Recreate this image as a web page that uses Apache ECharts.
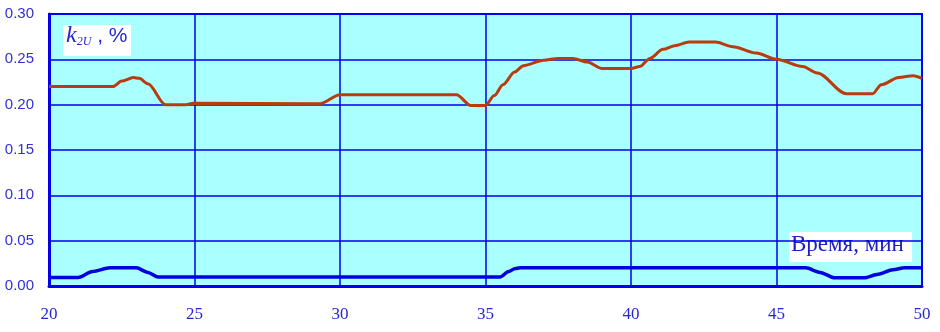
<!DOCTYPE html>
<html><head><meta charset="utf-8">
<script src="https://cdn.jsdelivr.net/npm/echarts@6/dist/echarts.min.js"></script>
<style>html,body{margin:0;padding:0;background:#fff}#c{width:940px;height:332px}</style>
</head><body><div id="c"></div>
<script>
const xTicks = [20, 25, 30, 35, 40, 45, 50];
const yTicks = ['0.00','0.05','0.10','0.15','0.20','0.25','0.30'];
const redX = [20,22.2,22.5,22.9,23.1,23.4,24.0,24.7,24.95,29.3,30.0,34.0,34.5,35.0,35.3,35.6,36.0,36.3,37.0,37.5,38.0,38.5,39.0,40.0,40.3,40.65,41.1,41.5,42.0,42.9,43.5,44.3,45.0,45.9,46.4,47.4,48.3,48.6,49.2,49.7,50];
const redY = [0.220,0.220,0.226,0.230,0.229,0.223,0.200,0.200,0.2015,0.201,0.211,0.211,0.199,0.199,0.210,0.222,0.236,0.243,0.249,0.251,0.251,0.247,0.240,0.240,0.242,0.251,0.261,0.265,0.269,0.269,0.264,0.257,0.250,0.242,0.235,0.212,0.212,0.222,0.230,0.232,0.229];
const blueX = [20,21.0,21.5,22.1,23.0,23.4,23.75,35.5,35.8,36.0,36.2,46.0,46.5,47.0,48.0,48.5,49.0,49.4,50];
const blueY = [0.0095,0.0095,0.016,0.020,0.020,0.015,0.010,0.010,0.016,0.019,0.020,0.020,0.015,0.009,0.009,0.013,0.018,0.020,0.020];

const chart = echarts.init(document.getElementById('c'));
const blue = '#0000ee';
chart.setOption({
  animation:false,
  grid:{left:49,right:18,top:14,bottom:46,show:true,backgroundColor:'#aaffff',borderColor:blue,borderWidth:2},
  xAxis:{type:'value',min:20,max:50,interval:5,
    axisLine:{show:true,lineStyle:{color:blue,width:3}},axisTick:{show:false},
    axisLabel:{margin:20,color:'#2828d0',fontFamily:'Liberation Serif',fontSize:17,
      formatter:v=>xTicks.includes(v)?String(v):''},
    splitLine:{show:true,lineStyle:{color:blue,width:1.5}}},
  yAxis:{type:'value',min:0,max:0.3,interval:0.05,
    axisLine:{show:true,lineStyle:{color:blue,width:3}},axisTick:{show:false},
    axisLabel:{margin:15,color:'#3030d8',fontFamily:'Liberation Sans',fontSize:15,
      formatter:v=>yTicks[Math.round(v/0.05)]},
    splitLine:{show:true,lineStyle:{color:blue,width:1.5}}},
  series:[
    {type:'line',data:redX.map((x,i)=>[x,redY[i]]),symbol:'none',smooth:0.3,smoothMonotone:'x',lineStyle:{color:'#b83c10',width:3}},
    {type:'line',data:blueX.map((x,i)=>[x,blueY[i]]),symbol:'none',smooth:0.3,smoothMonotone:'x',lineStyle:{color:'#0000dd',width:3.5}}
  ],
  graphic:[
    {type:'rect',left:63,top:25,shape:{width:68,height:31},style:{fill:'#fff'}},
    {type:'text',left:66,top:24,style:{text:'{k|k}{s|2U}{n| , %}',rich:{
      k:{fontFamily:'Liberation Serif',fontStyle:'italic',fontSize:24,fill:'#2828d0'},
      s:{fontFamily:'Liberation Serif',fontStyle:'italic',fontSize:12,fill:'#2828d0',padding:[12,0,0,0]},
      n:{fontFamily:'Liberation Sans',fontSize:21,fill:'#2828d0'}}}},
    {type:'rect',left:789,top:232,shape:{width:123,height:30},style:{fill:'#fff'}},
    {type:'text',left:791,top:233,style:{text:'Время, мин',fontFamily:'Liberation Serif',fontSize:23,fill:'#2020c0'}}
  ]
});
</script></body></html>
